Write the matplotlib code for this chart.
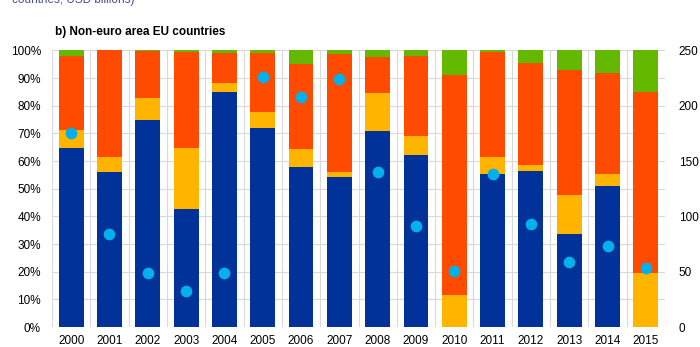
import matplotlib.pyplot as plt
import numpy as np

plt.rcParams["font.family"] = ["Liberation Sans", "DejaVu Sans"]

years = [str(y) for y in range(2000, 2016)]

# shares of total (%), stacked bottom to top
blue = [64.6, 56.0, 74.8, 42.6, 85.1, 72.1, 57.9, 54.1, 70.8, 62.2, 0.0, 55.4, 56.4, 33.8, 51.0, 0.0]
yellow = [6.7, 5.6, 7.9, 22.0, 3.1, 5.6, 6.6, 1.9, 13.9, 6.9, 11.7, 6.1, 2.2, 13.9, 4.3, 19.7]
orange = [26.8, 38.4, 17.1, 34.8, 10.8, 21.3, 30.5, 42.8, 12.9, 29.0, 79.5, 37.8, 36.7, 45.2, 36.7, 65.4]
green = [1.9, 0.0, 0.2, 0.6, 1.0, 1.0, 5.0, 1.2, 2.4, 1.9, 8.8, 0.7, 4.7, 7.1, 8.0, 14.9]

# total (USD billions, right axis)
total = [175.7, 84.5, 49.2, 32.9, 49.2, 226.0, 208.0, 224.0, 140.0, 90.9, 50.4, 138.6, 93.0, 58.9, 72.8, 53.4]

C_BLUE = "#003299"
C_YELLOW = "#FFB400"
C_ORANGE = "#FF4B00"
C_GREEN = "#65B800"
C_DOT = "#00B1EA"
GRID = "#d9d9d9"

fig = plt.figure(figsize=(7, 3.47), dpi=100)
ax = fig.add_axes([0.0743, 0.0576, 0.8757, 0.797])
x = np.arange(len(years))
w = 0.65

bottom = np.zeros(len(years))
for vals, col in [(blue, C_BLUE), (yellow, C_YELLOW), (orange, C_ORANGE), (green, C_GREEN)]:
    ax.bar(x, vals, w, bottom=bottom, color=col, zorder=2)
    bottom += np.array(vals)

ax.set_xlim(-0.5, len(years) - 0.5)
ax.set_ylim(0, 100)
ax.set_yticks(np.arange(0, 101, 10))
ax.set_yticklabels([f"{v}%" for v in range(0, 101, 10)])
ax.set_xticks(x)
ax.set_xticklabels(years)
ax.set_xticks(np.arange(-0.5, len(years), 1), minor=True)
ax.grid(axis="y", color=GRID, linewidth=0.8, zorder=0)
ax.grid(axis="x", which="minor", color=GRID, linewidth=0.8, zorder=0)
ax.tick_params(axis="both", which="both", length=0, labelsize=8.5, colors="#000000")
ax.tick_params(axis="y", pad=8)
ax.tick_params(axis="x", pad=6)
for s in ax.spines.values():
    s.set_visible(False)

ax2 = ax.twinx()
ax2.scatter(x, total, s=55, color=C_DOT, zorder=5)
ax2.set_ylim(0, 250)
ax2.set_yticks(np.arange(0, 251, 50))
ax2.tick_params(axis="y", length=0, labelsize=8.5, pad=10)
for s in ax2.spines.values():
    s.set_visible(False)

fig.text(0.078, 0.908, "b) Non-euro area EU countries", fontsize=8.5, fontweight="bold", va="center")
fig.text(0.017, 1.0, "countries; USD billions)", fontsize=8.5, color="#44508a", va="center")

fig.savefig("out.png", dpi=100)
